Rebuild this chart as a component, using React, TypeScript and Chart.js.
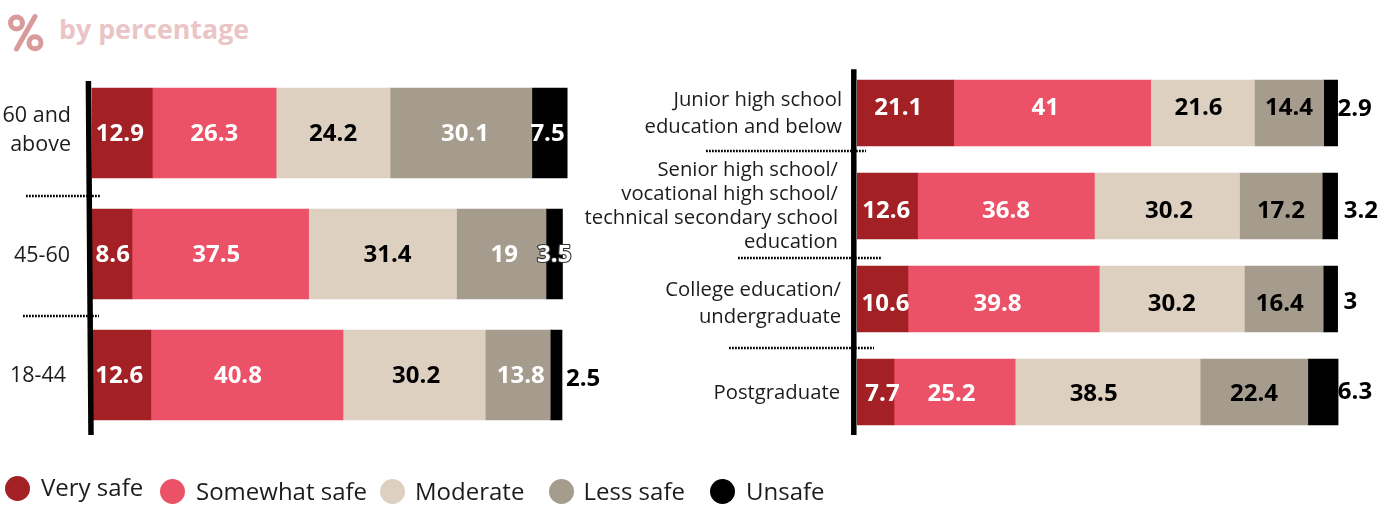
import React, { useEffect, useRef } from "react";
import { Chart, registerables } from "chart.js";

Chart.register(...registerables);

// ---------- data ----------
const seriesNames = ["Very safe", "Somewhat safe", "Moderate", "Less safe", "Unsafe"];

const ageGroups = [["60 and", "above"], "45-60", "18-44"];
const ageVerySafe = [12.9, 8.6, 12.6];
const ageSomewhatSafe = [26.3, 37.5, 40.8];
const ageModerate = [24.2, 31.4, 30.2];
const ageLessSafe = [30.1, 19, 13.8];
const ageUnsafe = [7.5, 3.5, 2.5];

const educationLevels = [
  ["Junior high school", "education and below"],
  ["Senior high school/", "vocational high school/", "technical secondary school", "education"],
  ["College education/", "undergraduate"],
  "Postgraduate",
];
const eduVerySafe = [20.1, 12.6, 10.6, 7.7];
// the reference prints 21.1 on a bar drawn about 20.1 long
const eduVerySafePrinted = [21.1, 12.6, 10.6, 7.7];
const eduSomewhatSafe = [41, 36.8, 39.8, 25.2];
const eduModerate = [21.6, 30.2, 30.2, 38.5];
const eduLessSafe = [14.4, 17.2, 16.4, 22.4];
const eduUnsafe = [2.9, 3.2, 3, 6.3];

// ---------- style ----------
const FONT = '"Open Sans", "Noto Sans", sans-serif';
const colors = ["#a32125", "#eb5267", "#ddd0c0", "#a59c8e", "#000000"];

const legendLayout = [
  { dot: 17, dotY: 488, text: 41, textY: 486.5 },
  { dot: 172, dotY: 491, text: 196, textY: 490.5 },
  { dot: 392, dotY: 491, text: 415, textY: 490.5 },
  { dot: 561, dotY: 491, text: 583.5, textY: 490.5 },
  { dot: 722, dotY: 491, text: 746, textY: 490.5 },
];

type LabelStyle = { dx: number[][]; dy: number[][]; color: string[][]; outline?: [number, number][] };

const W = "#ffffff";
const K = "#000000";

const ageLabelStyle: LabelStyle = {
  // [series][row]
  dx: [
    [-2, 1, -2],
    [0, -4, -9],
    [0, 5, 2],
    [4, 3, 3],
    [-2, 0, 27],
  ],
  dy: [
    [1, 1, 1],
    [1, 1, 1],
    [1, 1, 1],
    [1, 1, 1],
    [1, 1, 4],
  ],
  color: [
    [W, W, W],
    [W, W, W],
    [K, K, K],
    [W, W, W],
    [W, W, K],
  ],
  outline: [[4, 1]],
};

const eduLabelStyle: LabelStyle = {
  dx: [
    [-7, -1, 3, 7],
    [-7, 0, -6, -3],
    [-4, 2, 0, -14],
    [0, 0, -4, 0],
    [24, 31, 20, 32],
  ],
  dy: [
    [-5, 5, 5, 2],
    [-5, 5, 5, 2],
    [-5, 5, 5, 2],
    [-5, 5, 5, 2],
    [-4, 5, 3, 0],
  ],
  color: [
    [W, W, W, W],
    [W, W, W, W],
    [K, K, K, K],
    [K, K, K, K],
    [K, K, K, K],
  ],
};

const panelMarks = {
  id: "panelMarks",
  beforeDraw(chart: any, _a: any, opts: any) {
    const items = chart.scales.y.getLabelItems();
    items.forEach((it: any, i: number) => {
      if (it.__nudged) return;
      it.options.translation = [
        it.options.translation[0] + opts.tickNudge[i][0],
        it.options.translation[1] + opts.tickNudge[i][1],
      ];
      it.__nudged = true;
    });
  },
  afterDatasetsDraw(chart: any, _a: any, opts: any) {
    const { ctx, scales } = chart;
    const zero = scales.x.getPixelForValue(0);
    ctx.save();

    // printed values
    ctx.font = `bold 24px ${FONT}`;
    ctx.textAlign = "center";
    ctx.textBaseline = "middle";
    const style: LabelStyle = opts.labels;
    chart.data.datasets.forEach((ds: any, s: number) => {
      chart.getDatasetMeta(s).data.forEach((bar: any, r: number) => {
        const printed = ds.printed ? ds.printed[r] : ds.data[r];
        const x = (bar.x + bar.base) / 2 + style.dx[s][r];
        const y = bar.y + style.dy[s][r];
        if (style.outline && style.outline.some(([a, b]) => a === s && b === r)) {
          ctx.lineWidth = 2.2;
          ctx.lineJoin = "round";
          ctx.strokeStyle = "#333333";
          ctx.strokeText(String(printed), x, y);
        }
        ctx.fillStyle = style.color[s][r];
        ctx.fillText(String(printed), x, y);
      });
    });

    // thick baseline
    ctx.strokeStyle = "#000000";
    ctx.lineWidth = 5.5;
    ctx.beginPath();
    ctx.moveTo(zero + opts.axis.topDx, opts.axis.top);
    ctx.lineTo(zero + opts.axis.bottomDx, opts.axis.bottom);
    ctx.stroke();

    // dotted separators between rows
    ctx.lineWidth = 2.4;
    ctx.setLineDash([1.8, 1.2]);
    opts.separators.forEach((sep: any) => {
      const y = Math.round(scales.y.getPixelForValue(sep.after + 0.5) + sep.dy);
      ctx.beginPath();
      ctx.moveTo(sep.x0, y);
      ctx.lineTo(sep.x1, y);
      ctx.stroke();
    });
    ctx.restore();
  },
};

function makeChart(canvas: HTMLCanvasElement, cfg: any) {
  return new Chart(canvas, {
    type: "bar",
    data: {
      labels: cfg.labels,
      datasets: cfg.series.map((data: number[], i: number) => ({
        label: seriesNames[i],
        data,
        printed: cfg.printed?.[i],
        backgroundColor: colors[i],
        borderWidth: 0,
        barThickness: cfg.barThickness,
      })),
    },
    plugins: [panelMarks],
    options: {
      indexAxis: "y",
      responsive: false,
      animation: false,
      layout: { padding: cfg.padding },
      plugins: {
        legend: { display: false },
        title: { display: false },
        tooltip: { enabled: false },
        panelMarks: cfg.marks,
      },
      scales: {
        x: { stacked: true, display: false, min: 0, max: cfg.max },
        y: {
          stacked: true,
          grid: { display: false, drawTicks: false },
          border: { display: false },
          afterFit: (scale: any) => {
            scale.width = cfg.axisWidth;
          },
          ticks: {
            color: "#1c1c1c",
            padding: cfg.tickPadding,
            autoSkip: false,
            font: (ctx: any) => ({
              family: FONT,
              size: cfg.tickSize,
              lineHeight: cfg.lineHeights[ctx.index] + "px",
            }),
          },
        },
      },
    } as any,
  });
}

export default function App() {
  const leftRef = useRef<HTMLCanvasElement>(null);
  const rightRef = useRef<HTMLCanvasElement>(null);

  useEffect(() => {
    const left = makeChart(leftRef.current!, {
      labels: ageGroups,
      series: [ageVerySafe, ageSomewhatSafe, ageModerate, ageLessSafe, ageUnsafe],
      barThickness: 90,
      max: 102,
      axisWidth: 91.5,
      tickPadding: 20.5,
      tickSize: 21.5,
      lineHeights: [29, 24, 24],
      padding: { left: 0, right: 40.1, top: 72.5, bottom: 70.5 },
      marks: {
        labels: ageLabelStyle,
        tickNudge: [
          [0, -2.5],
          [-1, 2],
          [-5, 1],
        ],
        axis: { top: 81, bottom: 435, topDx: -3.1, bottomDx: -0.5 },
        separators: [
          { after: 0, dy: 2.5, x0: 26, x1: 101 },
          { after: 1, dy: 1, x0: 23, x1: 99 },
        ],
      },
    });
    const right = makeChart(rightRef.current!, {
      labels: educationLevels,
      series: [eduVerySafe, eduSomewhatSafe, eduModerate, eduLessSafe, eduUnsafe],
      printed: [eduVerySafePrinted],
      barThickness: 66,
      max: 110.9,
      axisWidth: 282,
      tickPadding: 15,
      tickSize: 20.25,
      lineHeights: [27, 24, 27, 24],
      padding: { left: 0, right: 5, top: 66.5, bottom: 67.5 },
      marks: {
        labels: eduLabelStyle,
        tickNudge: [
          [0, 0.5],
          [-4, 0],
          [-1, 4.5],
          [-2, 1],
        ],
        axis: { top: 69.3, bottom: 435, topDx: -3.2, bottomDx: -3.2 },
        separators: [
          { after: 0, dy: -8.5, x0: 131, x1: 291 },
          { after: 1, dy: 5.5, x0: 163, x1: 307 },
          { after: 2, dy: 2.5, x0: 154, x1: 299 },
        ],
      },
    });
    return () => {
      left.destroy();
      right.destroy();
    };
  }, []);

  return (
    <div style={{ position: "absolute", left: 0, top: 0, width: 1395, height: 506, overflow: "hidden", background: "#fff", fontFamily: FONT }}>
      <svg width={50} height={60} style={{ position: "absolute", left: 0, top: 0 }}>
        <g fill="none" stroke="#d99a9c" strokeWidth={5} strokeLinecap="round">
          <circle cx={16.5} cy={23} r={6} />
          <circle cx={35} cy={42.7} r={6} />
          <line x1={35} y1={16.5} x2={16.5} y2={49} />
        </g>
      </svg>
      <div style={{ position: "absolute", left: 59, top: 9, lineHeight: "40px", fontSize: 26.8, fontWeight: 700, color: "#ebc4c5", whiteSpace: "nowrap" }}>
        by percentage
      </div>
      <canvas ref={leftRef} width={612} height={506} style={{ position: "absolute", left: 0, top: 0 }} />
      <canvas ref={rightRef} width={820} height={506} style={{ position: "absolute", left: 575, top: 0 }} />
      {seriesNames.map((name, i) => (
        <React.Fragment key={name}>
          <div
            style={{
              position: "absolute",
              left: legendLayout[i].dot - 12.5,
              top: legendLayout[i].dotY - 12.5,
              width: 25,
              height: 25,
              borderRadius: "50%",
              background: colors[i],
            }}
          />
          <div
            style={{
              position: "absolute",
              left: legendLayout[i].text,
              top: legendLayout[i].textY - 18,
              lineHeight: "36px",
              fontSize: 24,
              color: "#1c1c1c",
              whiteSpace: "nowrap",
            }}
          >
            {name}
          </div>
        </React.Fragment>
      ))}
    </div>
  );
}
